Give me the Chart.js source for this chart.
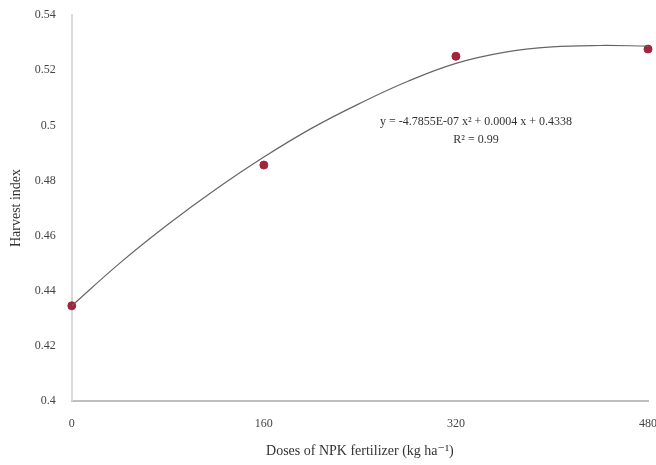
<!DOCTYPE html>
<html>
<head>
<meta charset="utf-8">
<script src="https://cdn.jsdelivr.net/npm/chart.js@4"></script>
<style>
  html, body { margin: 0; padding: 0; background: #fff; }
  #wrap { width: 656px; height: 465px; }
</style>
</head>
<body>
<div id="wrap"><canvas id="canvas"></canvas></div>
<script>
// observed harvest index
const doses = [0, 160, 320, 480];
const harvestIndex = [0.4345, 0.4856, 0.5251, 0.5277];

// trend line
const trendX = [0, 40, 80, 120, 160, 200, 240, 280, 320, 360, 400, 440, 480];
const trendY = [0.4345, 0.4500, 0.4640, 0.4768, 0.4885, 0.4990, 0.5080, 0.5160, 0.5225, 0.5265, 0.5285, 0.5290, 0.5288];

const xTicks = [0, 160, 320, 480];
const yTicks = [0.4, 0.42, 0.44, 0.46, 0.48, 0.5, 0.52, 0.54];

const serif = "'Liberation Serif', 'DejaVu Serif', serif";

// equation label
const eqPlugin = {
    id: 'eq',
    afterDatasetsDraw(chart) {
        const c = chart.ctx;
        c.save();
        c.fillStyle = '#333';
        c.font = '12px ' + serif;
        c.textAlign = 'center';
        c.textBaseline = 'middle';
        c.fillText('y = -4.7855E-07 x\u00B2 + 0.0004 x + 0.4338', 476, 122);
        c.fillText('R\u00B2 = 0.99', 476, 140);
        c.restore();
    }
};

let ctx = document.getElementById('canvas').getContext('2d');

let chart = new Chart(ctx, {
    type: 'scatter',
    data: {
        datasets: [{
            type: 'line',
            data: trendX.map((x, i) => ({ x: x, y: trendY[i] })),
            borderColor: '#666',
            borderWidth: 1.2,
            pointRadius: 0,
            tension: 0.4,
            fill: false
        }, {
            data: doses.map((x, i) => ({ x: x, y: harvestIndex[i] })),
            backgroundColor: '#a3243b',
            borderColor: '#a3243b',
            pointRadius: 4,
            clip: false
        }]
    },
    options: {
        responsive: true,
        maintainAspectRatio: false,
        animation: false,
        layout: { padding: { top: 9, right: 8, left: 8, bottom: 5 } },
        plugins: {
            legend: { display: false },
            tooltip: { enabled: false }
        },
        scales: {
            x: {
                type: 'linear',
                min: 0,
                max: 480,
                afterBuildTicks: axis => { axis.ticks = xTicks.map(v => ({ value: v })); },
                afterFit: axis => { axis.paddingRight = 0; },
                grid: { display: false, drawTicks: false },
                border: { color: '#bfbfbf', width: 2 },
                ticks: { color: '#444', font: { family: serif, size: 12 }, padding: 16 },
                title: {
                    display: true,
                    text: 'Doses of NPK fertilizer (kg ha\u207B\u00B9)',
                    color: '#333',
                    font: { family: serif, size: 14 },
                    padding: { top: -4, bottom: 0 }
                }
            },
            y: {
                min: 0.4,
                max: 0.54,
                afterBuildTicks: axis => { axis.ticks = yTicks.map(v => ({ value: v })); },
                grid: { display: false },
                border: { color: '#d9d9d9', width: 2 },
                ticks: {
                    color: '#444',
                    font: { family: serif, size: 12 },
                    padding: 8,
                    callback: v => String(+v.toFixed(2))
                },
                title: {
                    display: true,
                    text: 'Harvest index',
                    color: '#333',
                    font: { family: serif, size: 14 },
                    padding: { top: 0, bottom: 2 }
                }
            }
        }
    },
    plugins: [eqPlugin]
});
</script>
</body>
</html>
